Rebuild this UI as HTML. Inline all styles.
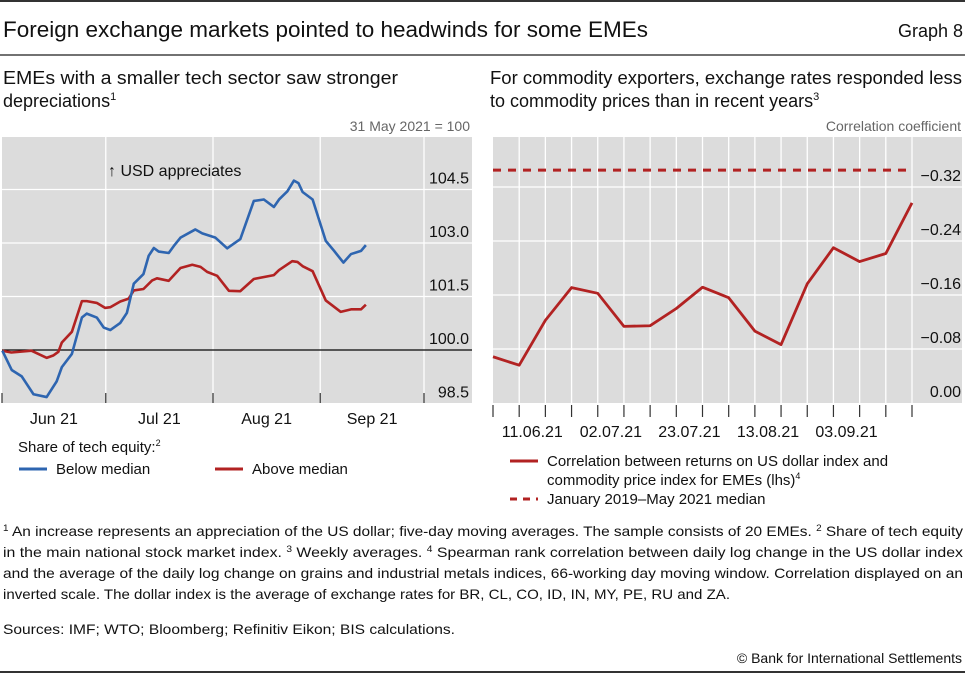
<!DOCTYPE html>
<html><head><meta charset="utf-8"><style>
html,body{margin:0;padding:0;background:#fff;}
svg{display:block;font-family:"Liberation Sans Narrow","Liberation Sans",sans-serif;}
</style></head><body>
<svg id="svg" width="965" height="673" viewBox="0 0 965 673" xmlns="http://www.w3.org/2000/svg">
<line x1="0" y1="1" x2="965" y2="1" stroke="#333" stroke-width="2"/>
<text x="3" y="37" font-size="22" fill="#111" textLength="645" lengthAdjust="spacingAndGlyphs">Foreign exchange markets pointed to headwinds for some EMEs</text>
<text x="963" y="37" font-size="18" fill="#111" text-anchor="end">Graph 8</text>
<line x1="0" y1="55" x2="965" y2="55" stroke="#444" stroke-width="1.5"/>

<text x="3" y="84" font-size="18" fill="#111" textLength="395" lengthAdjust="spacingAndGlyphs">EMEs with a smaller tech sector saw stronger</text>
<text x="3" y="107" font-size="18" fill="#111">depreciations<tspan font-size="11" dy="-7">1</tspan></text>
<text x="470" y="131" font-size="14" fill="#666" text-anchor="end">31 May 2021 = 100</text>

<text x="490" y="84" font-size="18" fill="#111" textLength="472" lengthAdjust="spacingAndGlyphs">For commodity exporters, exchange rates responded less</text>
<text x="490" y="107" font-size="18" fill="#111">to commodity prices than in recent years<tspan font-size="11" dy="-7">3</tspan></text>
<text x="961" y="131" font-size="14" fill="#666" text-anchor="end">Correlation coefficient</text>

<g id="left"></g>
<g id="right"></g>

<text x="18" y="452" font-size="15" fill="#111">Share of tech equity:<tspan font-size="9" dy="-6">2</tspan></text>
<line x1="19" y1="469" x2="47" y2="469" stroke="#2e65b0" stroke-width="3"/>
<text x="56" y="474" font-size="15" fill="#111">Below median</text>
<line x1="215" y1="469" x2="243" y2="469" stroke="#b22222" stroke-width="3"/>
<text x="252" y="474" font-size="15" fill="#111">Above median</text>

<line x1="510" y1="461" x2="538" y2="461" stroke="#b22222" stroke-width="3"/>
<text x="547" y="466" font-size="15" fill="#111">Correlation between returns on US dollar index and</text>
<text x="547" y="485" font-size="15" fill="#111">commodity price index for EMEs (lhs)<tspan font-size="9" dy="-6">4</tspan></text>
<line x1="510" y1="499" x2="538" y2="499" stroke="#b22222" stroke-width="3" stroke-dasharray="7,6"/>
<text x="547" y="504" font-size="15" fill="#111">January 2019–May 2021 median</text>

<g font-size="14" fill="#111">
<text x="3" y="536" textLength="960" lengthAdjust="spacingAndGlyphs"><tspan font-size="9" dy="-5">1</tspan><tspan dy="5">  An increase represents an appreciation of the US dollar; five-day moving averages. The sample consists of 20 EMEs.    </tspan><tspan font-size="9" dy="-5">2</tspan><tspan dy="5">  Share of tech equity</tspan></text>
<text x="3" y="557" textLength="960" lengthAdjust="spacingAndGlyphs">in the main national stock market index.    <tspan font-size="9" dy="-5">3</tspan><tspan dy="5">  Weekly averages.    </tspan><tspan font-size="9" dy="-5">4</tspan><tspan dy="5">  Spearman rank correlation between daily log change in the US dollar index</tspan></text>
<text x="3" y="578" textLength="960" lengthAdjust="spacingAndGlyphs">and the average of the daily log change on grains and industrial metals indices, 66-working day moving window. Correlation displayed on an</text>
<text x="3" y="599" textLength="727" lengthAdjust="spacingAndGlyphs">inverted scale. The dollar index is the average of exchange rates for BR, CL, CO, ID, IN, MY, PE, RU and ZA.</text>
<text x="3" y="634" textLength="452" lengthAdjust="spacingAndGlyphs">Sources: IMF; WTO; Bloomberg; Refinitiv Eikon; BIS calculations.</text>
<text x="962" y="663" text-anchor="end">© Bank for International Settlements</text>
</g>
<line x1="0" y1="672" x2="965" y2="672" stroke="#333" stroke-width="2"/>
</svg>
<script>
// ---- left chart data (days since 31 May 2021, index 31 May 2021 = 100)
const blueDays = [0.1,2.8,5.7,9.1,12.9,15.8,17.3,20.2,23.1,24.5,27.4,29.4,31.3,34.2,36.1,38.1,40.9,42.4,43.9,45.3,48.2,49.7,51.6,55.9,57.9,61.7,65.1,68.9,72.8,75.7,78.6,80.1,82.5,84.4,85.7,86.9,89.8,93.6,96.0,98.7,100.9,103.8,105.2];
const blueValues = [99.98,99.44,99.26,98.76,98.68,99.12,99.52,99.89,100.91,101.02,100.91,100.63,100.56,100.76,101.04,101.86,102.13,102.64,102.86,102.76,102.72,102.92,103.15,103.38,103.27,103.15,102.85,103.11,104.18,104.22,104.01,104.22,104.45,104.75,104.68,104.43,104.22,103.06,102.78,102.45,102.69,102.78,102.94];
const redDays = [0.1,2.7,8.5,12.9,14.9,16.3,17.3,20.2,23.1,24.5,27.4,29.8,31.3,34.2,36.6,38.1,40.9,43.4,44.8,48.2,51.6,55.0,57.4,59.3,62.2,65.6,68.9,72.8,78.6,80.1,83.9,85.4,86.9,89.8,93.6,97.9,100.9,103.8,105.2];
const redValues = [99.98,99.93,99.98,99.78,99.85,99.95,100.21,100.51,101.37,101.37,101.32,101.18,101.2,101.36,101.44,101.67,101.71,101.95,102.01,101.94,102.3,102.39,102.33,102.19,102.08,101.66,101.65,101.99,102.1,102.24,102.49,102.47,102.35,102.21,101.39,101.07,101.14,101.14,101.27];
const leftTicks = [98.5,100.0,101.5,103.0,104.5];
const monthLabels = ["Jun 21","Jul 21","Aug 21","Sep 21"];
const monthStarts = [0,30,61,92,122];

// ---- right chart data (weekly, inverted scale)
const weekValues = [0.0685,0.056,0.1225,0.171,0.1625,0.1135,0.1145,0.14,0.1715,0.156,0.1065,0.0865,0.1765,0.23,0.2095,0.2215,0.2965];
const medianValue = 0.345;
const rightTicks = [0.00,0.08,0.16,0.24,0.32];
const weekLabels = ["11.06.21","02.07.21","23.07.21","13.08.21","03.09.21"];
const weekLabelIdx = [1,4,7,10,13];

const NS="http://www.w3.org/2000/svg";
function mk(tag, attrs, parent){const e=document.createElementNS(NS,tag);for(const k in attrs)e.setAttribute(k,attrs[k]);parent.appendChild(e);return e;}

// Left
const L=document.getElementById('left');
const lx=d=>2+d*(424-2)/122;
const ly=v=>350-(v-100)*(53.5/1.5);
let bg=mk('rect',{x:2,y:137,width:470,height:266,fill:'#dcdcdc'},L);


leftTicks.forEach(t=>{
  if(t!==98.5){const g=mk('line',{x1:2,x2:472,y1:ly(t),y2:ly(t),stroke:'#fff','stroke-width':1.3},L);
  
  }
  const tx=mk('text',{x:469,y:ly(t)-6,'font-size':16,fill:'#111','text-anchor':'end'},L);
  tx.textContent=t.toFixed(1);
  
  
});
monthStarts.forEach((d,i)=>{
  if(i>0){const g=mk('line',{x1:lx(d),x2:lx(d),y1:137,y2:403,stroke:'#fff','stroke-width':1.3},L);
  
  }
  const tk=mk('line',{x1:lx(d),x2:lx(d),y1:393,y2:403,stroke:'#333','stroke-width':1.2},L);
  
  
  if(i<monthLabels.length){const tx=mk('text',{x:(lx(d)+lx(monthStarts[i+1]))/2,y:424,'font-size':16,fill:'#111','text-anchor':'middle'},L);
  tx.textContent=monthLabels[i];
  
  }
});
const zero=mk('line',{x1:2,x2:472,y1:ly(100),y2:ly(100),stroke:'#000','stroke-width':1.2},L);


const ann=mk('text',{x:108,y:176,'font-size':16,fill:'#111'},L);
ann.textContent='↑ USD appreciates';


const rl=mk('polyline',{points:redDays.map((d,i)=>lx(d)+','+ly(redValues[i])).join(' '),fill:'none',stroke:'#b22222','stroke-width':2.6,'stroke-linejoin':'round'},L);


const bl=mk('polyline',{points:blueDays.map((d,i)=>lx(d)+','+ly(blueValues[i])).join(' '),fill:'none',stroke:'#2e65b0','stroke-width':2.6,'stroke-linejoin':'round'},L);



// Right
const R=document.getElementById('right');
const n=weekValues.length;
const rx=i=>493+i*(912-493)/(n-1);
const ry=v=>403-v*(54/0.08);
const bg2=mk('rect',{x:493,y:137,width:469,height:266,fill:'#dcdcdc'},R);


rightTicks.forEach(t=>{
  if(t!==0){const g=mk('line',{x1:493,x2:962,y1:ry(t),y2:ry(t),stroke:'#fff','stroke-width':1.3},R);
  
  }
  const tx=mk('text',{x:961,y:ry(t)-6,'font-size':16,fill:'#111','text-anchor':'end'},R);
  tx.textContent=t===0?'0.00':'−'+t.toFixed(2);
  
  
});
for(let i=0;i<n;i++){
  if(i>0){const g=mk('line',{x1:rx(i),x2:rx(i),y1:137,y2:403,stroke:'#fff','stroke-width':1.3},R);
  
  }
  const tk=mk('line',{x1:rx(i),x2:rx(i),y1:405,y2:417,stroke:'#333','stroke-width':1.2},R);
  
  
}
weekLabels.forEach((l,k)=>{
  const i=weekLabelIdx[k];
  const tx=mk('text',{x:(rx(i)+rx(i+1))/2,y:437,'font-size':16,fill:'#111','text-anchor':'middle'},R);
  tx.textContent=l;
  
  
});
const md=mk('line',{x1:rx(0),x2:rx(n-1),y1:ry(medianValue),y2:ry(medianValue),stroke:'#b22222','stroke-width':3,'stroke-dasharray':'8,7'},R);


const cl=mk('polyline',{points:weekValues.map((v,i)=>rx(i)+','+ry(v)).join(' '),fill:'none',stroke:'#b22222','stroke-width':2.8,'stroke-linejoin':'round'},R);


</script>
</body></html>
